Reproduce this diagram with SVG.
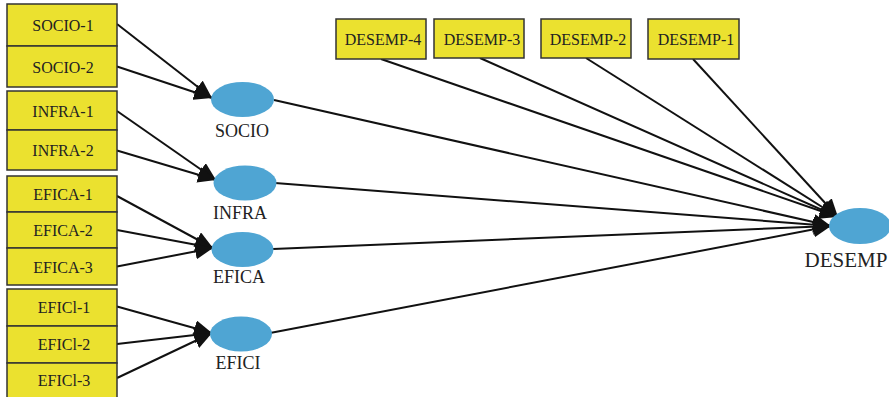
<svg xmlns="http://www.w3.org/2000/svg" width="889" height="397" viewBox="0 0 889 397">
<style>
.box{fill:#ebe12f;stroke:#333;stroke-width:1.5}
.lv{fill:#4fa5d3;stroke:none}
.t{font-family:"Liberation Serif","Times New Roman",serif;font-size:16px;fill:#222;text-anchor:middle}
.lt{font-family:"Liberation Serif","Times New Roman",serif;font-size:18px;fill:#222;text-anchor:middle}
.e{stroke:#111;stroke-width:2;fill:none;marker-end:url(#ah)}
</style>
<defs>
<marker id="ah" markerUnits="userSpaceOnUse" markerWidth="18" markerHeight="16" refX="18" refY="8" orient="auto">
<path d="M0,0 L18,8 L0,16 z" fill="#111"/>
</marker>
</defs>
<rect width="889" height="397" fill="#fff"/>
<g id="connectors">
<line class="e" x1="117" y1="24" x2="212" y2="98"/>
<line class="e" x1="117" y1="66.5" x2="212" y2="98"/>
<line class="e" x1="117" y1="111" x2="216" y2="180"/>
<line class="e" x1="117" y1="150.5" x2="216" y2="180"/>
<line class="e" x1="117" y1="196" x2="213" y2="248"/>
<line class="e" x1="117" y1="230" x2="213" y2="248"/>
<line class="e" x1="117" y1="266.5" x2="213" y2="248"/>
<line class="e" x1="117" y1="306.5" x2="212" y2="333"/>
<line class="e" x1="117" y1="344" x2="212" y2="333"/>
<line class="e" x1="117" y1="378" x2="212" y2="333"/>
<line class="e" x1="274" y1="100" x2="831" y2="226"/>
<line class="e" x1="275" y1="183" x2="831" y2="226"/>
<line class="e" x1="273" y1="249" x2="831" y2="226"/>
<line class="e" x1="270" y1="333" x2="831" y2="226"/>
<line class="e" x1="381" y1="59" x2="838" y2="217"/>
<line class="e" x1="480" y1="58" x2="838" y2="217"/>
<line class="e" x1="586" y1="58" x2="838" y2="217"/>
<line class="e" x1="693" y1="59" x2="838" y2="217"/>
</g>
<g id="SOCIO-1"><rect class="box" x="7" y="4" width="110" height="42"/><text class="t" x="63" y="31">SOCIO-1</text></g>
<g id="SOCIO-2"><rect class="box" x="7" y="46" width="110" height="41"/><text class="t" x="63" y="72.5">SOCIO-2</text></g>
<g id="INFRA-1"><rect class="box" x="7" y="91" width="110" height="39"/><text class="t" x="63" y="116.5">INFRA-1</text></g>
<g id="INFRA-2"><rect class="box" x="7" y="130" width="110" height="40"/><text class="t" x="63" y="156">INFRA-2</text></g>
<g id="EFICA-1"><rect class="box" x="7" y="176" width="110" height="36"/><text class="t" x="63" y="200">EFICA-1</text></g>
<g id="EFICA-2"><rect class="box" x="7" y="212" width="110" height="36"/><text class="t" x="63" y="236">EFICA-2</text></g>
<g id="EFICA-3"><rect class="box" x="7" y="248" width="110" height="37"/><text class="t" x="63" y="272.5">EFICA-3</text></g>
<g id="EFICI-1"><rect class="box" x="7" y="289" width="110" height="37"/><text class="t" x="64" y="313">EFICl-1</text></g>
<g id="EFICI-2"><rect class="box" x="7" y="326" width="110" height="37"/><text class="t" x="64" y="350">EFICl-2</text></g>
<g id="EFICI-3"><rect class="box" x="7" y="363" width="110" height="36"/><text class="t" x="64" y="386">EFICl-3</text></g>
<g id="DESEMP-4"><rect class="box" x="336" y="19" width="90" height="40"/><text class="t" x="383" y="45">DESEMP-4</text></g>
<g id="DESEMP-3"><rect class="box" x="434" y="19" width="90" height="39"/><text class="t" x="482" y="45">DESEMP-3</text></g>
<g id="DESEMP-2"><rect class="box" x="541" y="19" width="90" height="39"/><text class="t" x="588" y="45">DESEMP-2</text></g>
<g id="DESEMP-1"><rect class="box" x="648" y="19" width="91" height="40"/><text class="t" x="696" y="45">DESEMP-1</text></g>
<g id="SOCIO"><ellipse class="lv" cx="242.5" cy="99.5" rx="31.5" ry="17.5"/><text class="lt" x="242" y="137">SOCIO</text></g>
<g id="INFRA"><ellipse class="lv" cx="245" cy="183" rx="31.5" ry="17.5"/><text class="lt" x="240" y="219">INFRA</text></g>
<g id="EFICA"><ellipse class="lv" cx="242.5" cy="249.5" rx="31" ry="17.5"/><text class="lt" x="239" y="283">EFICA</text></g>
<g id="EFICI"><ellipse class="lv" cx="241" cy="334" rx="31" ry="17.5"/><text class="lt" x="238" y="369">EFICI</text></g>
<g id="DESEMP"><ellipse class="lv" cx="860" cy="226" rx="31" ry="18"/><text class="lt" x="846" y="267" style="font-size:21px">DESEMP</text></g>
</svg>
